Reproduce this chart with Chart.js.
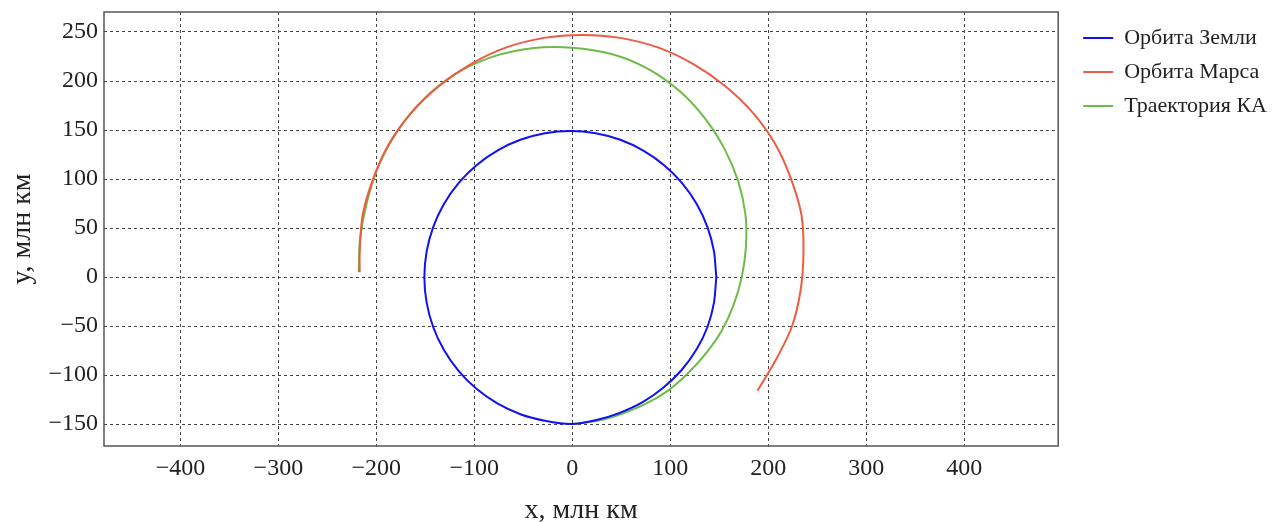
<!DOCTYPE html>
<html>
<head>
<meta charset="utf-8">
<script src="https://cdn.jsdelivr.net/npm/chart.js@4/dist/chart.umd.min.js"></script>
<style>
  html, body { margin: 0; padding: 0; background: #fff; }
</style>
</head>
<body>
<canvas id="myChart" width="1277" height="522"></canvas>
<script>
// orbit of Earth, million km
const earthX = [147, 144.7, 138, 127, 112.1, 93.8, 72.5, 49, 23.9, -2, -27.9, -53, -76.5, -97.8, -116.1, -131, -142, -148.7, -151, -148.7, -142, -131, -116.1, -97.8, -76.5, -53, -27.9, -1, 23.8, 48.4, 71.8, 92.8, 111.4, 126.6, 138, 144.7, 147];
const earthY = [0, 25.9, 51, 74.5, 95.8, 114.1, 129, 140, 146.7, 149, 146.7, 140, 129, 114.1, 95.8, 74.5, 51, 25.9, 0, -25.9, -51, -74.5, -95.8, -114.1, -129, -140, -146.7, -150, -146.2, -138.6, -127.7, -113, -95.1, -74.3, -51, -25.9, 0];

// orbit of Mars (arc)
const marsX = [189, 207, 224, 233, 236, 234, 223, 207, 184, 156, 124, 88, 49, 10, -29, -68, -104, -136, -164, -187, -203, -214, -217, -217];
const marsY = [-116, -86, -51, -14, 25, 63, 101, 136, 168, 195, 217, 234, 244, 247, 244, 234, 217, 195, 168, 136, 101, 63, 25, 5];

// spacecraft trajectory
const scX = [0, 25.9, 50.8, 74.8, 97.4, 117.6, 136, 152.2, 164.5, 173, 177.3, 176.7, 169.3, 155.5, 135.6, 109.5, 77.3, 40.1, 0, -41.1, -81.7, -119.5, -152, -178.1, -197.5, -209.6, -216.7, -218];
const scY = [-150, -146.7, -139.5, -129.5, -116.1, -98.7, -78.5, -55.4, -29, 0, 31.3, 64.3, 97.8, 130.5, 161.6, 189.7, 212.4, 227.5, 234, 233.4, 224.6, 207, 181.2, 149.4, 114, 76.3, 38.2, 5];

const seriesNames = ["Орбита Земли", "Орбита Марса", "Траектория КА"];
const xTicks = [-400, -300, -200, -100, 0, 100, 200, 300, 400];
const yTicks = [-150, -100, -50, 0, 50, 100, 150, 200, 250];

const pts = (xs, ys) => xs.map((x, i) => ({ x: x, y: ys[i] }));
const FONT = "'Liberation Serif', 'Times New Roman', serif";
const fmt = v => (v < 0 ? "\u2212" + Math.abs(v) : String(v));

const frame = {
  id: "frame",
  afterLayout(chart) {
    // legend sits a little away from the plot frame
    const lg = chart.legend;
    const h = lg.bottom - lg.top;
    lg.left += 13; lg.right += 13;
    lg.top = 15; lg.bottom = 15 + h;
  },
  afterDraw(chart) {
    const { ctx, chartArea: a } = chart;
    ctx.save();
    ctx.strokeStyle = "#555";
    ctx.lineWidth = 1.5;
    ctx.strokeRect(a.left, a.top, a.right - a.left, a.bottom - a.top);
    ctx.restore();
  }
};

function lineSet(label, data, color, tension) {
  return {
    label: label,
    data: data,
    showLine: true,
    borderColor: color,
    backgroundColor: color,
    borderWidth: 2,
    pointRadius: 0,
    pointStyle: "line",
    tension: tension
  };
}

const config = {
  type: "scatter",
  data: {
    datasets: [
      lineSet(seriesNames[0], pts(earthX, earthY), "#1010f5", 0.2),
      lineSet(seriesNames[1], pts(marsX, marsY), "#f05a42", 0.3),
      lineSet(seriesNames[2], pts(scX, scY), "#6cbc48", 0.3)
    ]
  },
  options: {
    responsive: false,
    animation: false,
    layout: { padding: { top: 12, left: 0, right: 13, bottom: 0 } },
    plugins: {
      tooltip: { enabled: false },
      legend: {
        position: "right",
        align: "start",
        labels: {
          usePointStyle: true,
          pointStyle: "line",
          pointStyleWidth: 30,
          boxHeight: 22,
          padding: 12,
          color: "#222",
          font: { family: FONT, size: 22 }
        }
      }
    },
    scales: {
      x: {
        type: "linear",
        min: -478,
        max: 496,
        afterBuildTicks: s => { s.ticks = xTicks.map(v => ({ value: v })); },
        afterFit: s => { s.height = 76; },
        ticks: { callback: fmt, color: "#222", font: { family: FONT, size: 24 }, padding: 8 },
        grid: { color: "#444", lineWidth: 1, drawTicks: false },
        border: { display: false, dash: [3, 3] },
        title: { display: true, text: "x, млн км", color: "#222", font: { family: FONT, size: 28 }, padding: { top: 4, bottom: -5 } }
      },
      y: {
        type: "linear",
        min: -172.4,
        max: 270.4,
        afterBuildTicks: s => { s.ticks = yTicks.map(v => ({ value: v })); },
        afterFit: s => { s.width = 104; s.paddingTop = 0; s.paddingBottom = 0; },
        ticks: { callback: fmt, color: "#222", font: { family: FONT, size: 24 }, padding: 6 },
        grid: { color: "#444", lineWidth: 1, drawTicks: false },
        border: { display: false, dash: [3, 3] },
        title: { display: true, text: "y, млн км", color: "#222", font: { family: FONT, size: 28 }, padding: { top: 6, bottom: 4 } }
      }
    }
  },
  plugins: [frame]
};

new Chart(document.getElementById("myChart"), config);
</script>
</body>
</html>
